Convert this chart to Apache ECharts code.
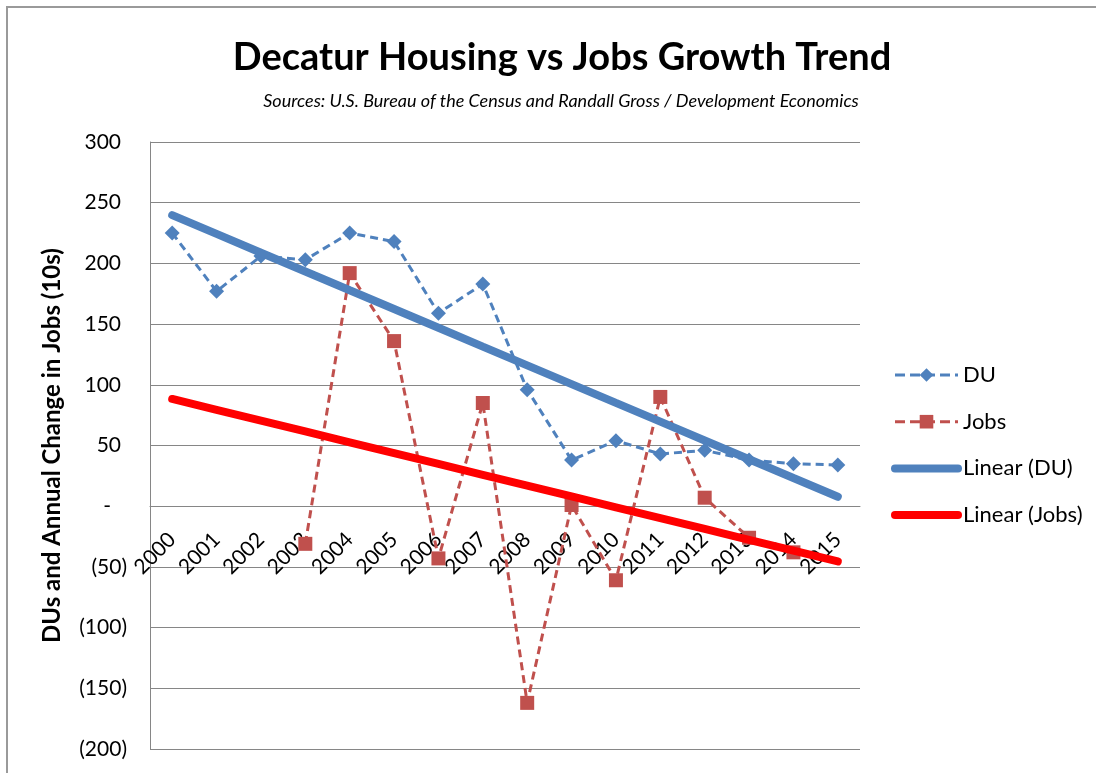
<!DOCTYPE html>
<html>
<head>
<meta charset="utf-8">
<title>Decatur Housing vs Jobs Growth Trend</title>
<script src="https://cdn.jsdelivr.net/npm/echarts@6/dist/echarts.min.js"></script>
<style>
  html, body { margin: 0; padding: 0; background: #ffffff; }
  #chart { width: 1096px; height: 773px; }
</style>
</head>
<body>
<div id="chart"></div>
<script>
// Years on the category axis
const years = ['2000', '2001', '2002', '2003', '2004', '2005', '2006', '2007',
               '2008', '2009', '2010', '2011', '2012', '2013', '2014', '2015'];

// Dwelling units (DU), in 10s
const duValues = [225, 177, 206, 203, 225, 218, 159, 183, 96, 38, 54, 43, 46, 38, 35, 34];

// Annual change in jobs, in 10s (no figures before 2003 or for 2015)
const jobsValues = [null, null, null, -31, 192, 136, -43, 85, -162, 1, -61, 90, 7, -26, -38, null];

// Value axis range and step
const yMin = -200;
const yMax = 300;
const yStep = 50;

// Least-squares linear trend, fitted on the years that have a value
function linearTrend(values) {
  const pts = values.map((v, i) => [i + 1, v]).filter(p => p[1] !== null);
  const n = pts.length;
  const mx = pts.reduce((s, p) => s + p[0], 0) / n;
  const my = pts.reduce((s, p) => s + p[1], 0) / n;
  let sxy = 0, sxx = 0;
  pts.forEach(p => { sxy += (p[0] - mx) * (p[1] - my); sxx += (p[0] - mx) * (p[0] - mx); });
  const slope = sxy / sxx;
  const intercept = my - slope * mx;
  return values.map((_, i) => +(intercept + slope * (i + 1)).toFixed(3));
}

const duTrend = linearTrend(duValues);
const jobsTrend = linearTrend(jobsValues);

// Accounting-style tick labels: 300, -, (50); positives keep room for ")"
function accounting(v) {
  if (v === 0) return '{dash|-}';
  if (v < 0) return '(' + Math.abs(v) + ')';
  return '{pos|' + v + '}';
}

const FONT = 'Lato, "Liberation Sans", Arial, sans-serif';

const BLUE = '#4F81BD';
const DARK_RED = '#C0504D';
const RED = '#FF0000';

const chart = echarts.init(document.getElementById('chart'), null, { renderer: 'canvas' });

chart.setOption({
  backgroundColor: '#ffffff',
  animation: false,
  title: [
    {
      text: 'Decatur Housing vs Jobs Growth Trend',
      left: 557,
      top: 34,
      textAlign: 'center',
      textStyle: { fontFamily: FONT, fontSize: 38, fontWeight: 'bold', color: '#000000' }
    },
    {
      text: 'Sources: U.S. Bureau of the Census and Randall Gross / Development Economics',
      left: 556,
      top: 87,
      textAlign: 'center',
      textStyle: { fontFamily: FONT, fontSize: 18, fontStyle: 'italic', fontWeight: 'normal', color: '#000000' }
    }
  ],
  graphic: [
    {
      type: 'rect',
      silent: true,
      shape: { x: 7, y: 7, width: 1200, height: 900 },
      style: { fill: 'none', stroke: '#9a9a9a', lineWidth: 2 }
    }
  ],
  legend: {
    orient: 'vertical',
    left: 886,
    top: 359,
    itemWidth: 63,
    itemHeight: 17,
    itemGap: 24.7,
    textStyle: { fontFamily: FONT, fontSize: 22, lineHeight: 22, color: '#000000' },
    data: [
      { name: 'DU', lineStyle: { width: 3, type: [10, 5] } },
      { name: 'Jobs', lineStyle: { width: 3, type: [10, 5] } },
      { name: 'Linear (DU)', lineStyle: { width: 8, cap: 'round' }, itemStyle: { opacity: 0 } },
      { name: 'Linear (Jobs)', lineStyle: { width: 8, cap: 'round' }, itemStyle: { opacity: 0 } }
    ]
  },
  grid: { left: 150, right: 236, top: 142, bottom: 24, containLabel: false, outerBoundsMode: 'none' },
  xAxis: {
    type: 'category',
    data: years,
    boundaryGap: true,
    position: 'bottom',
    axisLine: { onZero: false, lineStyle: { color: '#868686', width: 1 } },
    axisTick: { show: false },
    axisLabel: {
      interval: 0,
      rotate: 45,
      margin: 30,
      fontFamily: FONT,
      fontSize: 21,
      color: '#000000'
    },
    splitLine: { show: false }
  },
  yAxis: {
    type: 'value',
    min: yMin,
    max: yMax,
    interval: yStep,
    name: 'DUs and Annual Change in Jobs (10s)',
    nameLocation: 'middle',
    nameGap: 86,
    nameTextStyle: { fontFamily: FONT, fontSize: 24, fontWeight: 'bold', color: '#000000' },
    axisLine: { show: true, lineStyle: { color: '#868686', width: 1 } },
    axisTick: { show: false },
    axisLabel: {
      margin: 23,
      formatter: accounting,
      fontFamily: FONT,
      fontSize: 21,
      color: '#000000',
      rich: {
        pos: { fontFamily: FONT, fontSize: 21, color: '#000000', padding: [0, 6, 0, 0] },
        dash: { fontFamily: FONT, fontSize: 21, color: '#000000', padding: [0, 16, 0, 0] }
      }
    },
    splitLine: { show: true, lineStyle: { color: '#868686', width: 1 } }
  },
  series: [
    {
      name: 'DU',
      type: 'line',
      data: duValues,
      symbol: 'diamond',
      symbolSize: 15,
      itemStyle: { color: BLUE },
      lineStyle: { color: BLUE, width: 3, type: [8, 5] },
      z: 3
    },
    {
      name: 'Jobs',
      type: 'line',
      data: jobsValues,
      symbol: 'rect',
      symbolSize: 14,
      itemStyle: { color: DARK_RED },
      lineStyle: { color: DARK_RED, width: 3, type: [8, 5] },
      z: 3
    },
    {
      name: 'Linear (DU)',
      type: 'line',
      data: duTrend,
      symbol: 'none',
      itemStyle: { color: BLUE },
      lineStyle: { color: BLUE, width: 8, cap: 'round' },
      z: 4
    },
    {
      name: 'Linear (Jobs)',
      type: 'line',
      data: jobsTrend,
      symbol: 'none',
      itemStyle: { color: RED },
      lineStyle: { color: RED, width: 8, cap: 'round' },
      z: 4
    }
  ]
});

// The category axis crosses the value axis at zero: lift it from the
// bottom of the grid to the pixel row of 0 on the value scale.
const zeroY = chart.convertToPixel({ yAxisIndex: 0 }, 0);
const bottomY = chart.convertToPixel({ yAxisIndex: 0 }, yMin);
chart.setOption({ xAxis: { offset: -(bottomY - zeroY) } });
</script>
</body>
</html>
